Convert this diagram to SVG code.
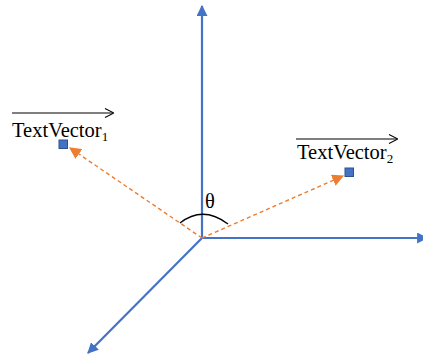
<svg xmlns="http://www.w3.org/2000/svg" width="423" height="356" viewBox="0 0 423 356">
<defs>
<marker id="ab" viewBox="0 0 10 10" refX="9" refY="5" markerWidth="5" markerHeight="5" markerUnits="strokeWidth" orient="auto"><path d="M0,0 L10,5 L0,10 Z" fill="#4472C4"/></marker>
<marker id="ao" viewBox="0 0 10 10" refX="9" refY="5" markerWidth="8.5" markerHeight="8.5" markerUnits="strokeWidth" orient="auto"><path d="M0,0 L10,5 L0,10 Z" fill="#ED7D31"/></marker>
<marker id="ak" viewBox="0 0 10 10" refX="9" refY="5" markerWidth="10" markerHeight="10" markerUnits="userSpaceOnUse" orient="auto"><path d="M1,0.5 L10,5 L1,9.5" fill="none" stroke="#000" stroke-width="1.1"/></marker>
</defs>
<style>
.axis{stroke:#4472C4;stroke-width:2.2;fill:none}
.vec{stroke:#ED7D31;stroke-width:1.4;stroke-dasharray:4 3;fill:none}
.pt{fill:#4472C4;stroke:#2F528F;stroke-width:1}
.lbl{font-family:"Liberation Serif","Times New Roman",serif;font-size:20.5px;fill:#000}
.sub{font-size:13px}
.ov{stroke:#000;stroke-width:1.2;fill:none}
</style>
<g id="connectors">
<line class="axis" x1="202" y1="238" x2="202" y2="6" marker-end="url(#ab)"/>
<line class="axis" x1="202" y1="238" x2="427" y2="238" marker-end="url(#ab)"/>
<line class="axis" x1="202" y1="238" x2="88" y2="353" marker-end="url(#ab)"/>
<line class="vec" x1="202" y1="238" x2="70" y2="148" marker-end="url(#ao)"/>
<line class="vec" x1="202" y1="238" x2="343" y2="176" marker-end="url(#ao)"/>
<path d="M180,223 Q203,205 228,224" fill="none" stroke="#000" stroke-width="1.3"/>
</g>
<g id="theta"><text class="lbl" x="205" y="208" font-size="19">θ</text></g>
<g id="vector1">
<rect class="pt" x="59" y="140" width="8.5" height="8.5"/>
<text class="lbl" x="12" y="137">TextVector<tspan class="sub" dy="4">1</tspan></text>
<line class="ov" x1="12" y1="113" x2="113" y2="113" marker-end="url(#ak)"/>
</g>
<g id="vector2">
<rect class="pt" x="345" y="168" width="8.5" height="8.5"/>
<text class="lbl" x="297" y="159">TextVector<tspan class="sub" dy="4">2</tspan></text>
<line class="ov" x1="296" y1="139" x2="397" y2="139" marker-end="url(#ak)"/>
</g>
</svg>
